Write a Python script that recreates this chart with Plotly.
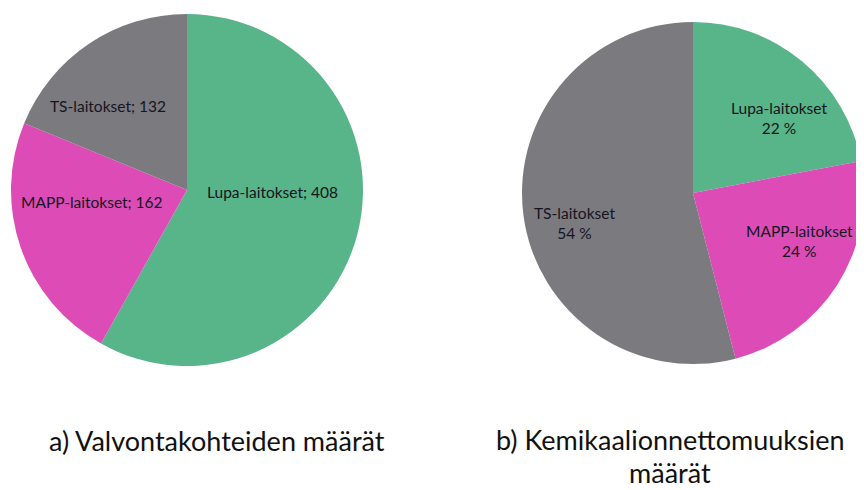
import plotly.graph_objects as go

# Data
categories_a = ["Lupa-laitokset", "MAPP-laitokset", "TS-laitokset"]
values_a = [408, 162, 132]
categories_b = ["Lupa-laitokset", "MAPP-laitokset", "TS-laitokset"]
values_b = [22, 24, 54]
title_a = "a) Valvontakohteiden määrät"
title_b_lines = ["b) Kemikaalionnettomuuksien", "määrät"]

colors = ["#58B489", "#DD4CB6", "#7B7A7F"]
FONT = "Lato"
TXT = "#15151f"

# page body has an 8px margin; the figure is sized so it fills the 864x490 window
OFF = 8
W, H = 864 - OFF, 490 - OFF


def px(x):
    return (x - OFF) / W


def py(y):
    return 1 - (y - OFF) / H


# label anchor points (page pixels) for each slice, in category order
label_pos_a = [(272, 192), (92, 202), (108, 106)]
label_pos_b = [(779, 118), (799, 241), (574, 223)]

fig = go.Figure()
fig.add_trace(go.Pie(
    labels=categories_a, values=values_a, sort=False, direction="clockwise",
    rotation=0, marker=dict(colors=colors, line=dict(width=0)),
    textinfo="none",
    domain=dict(x=[px(11), px(363)], y=[py(366), py(14)]),
    showlegend=False, hoverinfo="label+value",
))
fig.add_trace(go.Pie(
    labels=categories_b, values=values_b, sort=False, direction="clockwise",
    rotation=0, marker=dict(colors=colors, line=dict(width=0)),
    textinfo="none",
    domain=dict(x=[px(522), 1.0], y=[py(367), py(19)]),
    showlegend=False, hoverinfo="label+value",
))

for cat, val, (x, y) in zip(categories_a, values_a, label_pos_a):
    fig.add_annotation(text=f"{cat}; {val}", x=px(x), y=py(y), xref="paper", yref="paper",
                       showarrow=False, xanchor="center", yanchor="middle",
                       font=dict(family=FONT, size=15.5, color=TXT))
for cat, val, (x, y) in zip(categories_b, values_b, label_pos_b):
    fig.add_annotation(text=f"{cat}<br>{val} %", x=px(x), y=py(y), xref="paper", yref="paper",
                       showarrow=False, xanchor="center", yanchor="middle", align="center",
                       font=dict(family=FONT, size=15.5, color=TXT))

fig.add_annotation(text=title_a, x=px(217), y=py(440), xref="paper", yref="paper",
                   showarrow=False, xanchor="center", yanchor="middle",
                   font=dict(family=FONT, size=27, color="#111111"))
for line, yy in zip(title_b_lines, [439, 472]):
    fig.add_annotation(text=line, x=px(670), y=py(yy), xref="paper", yref="paper",
                       showarrow=False, xanchor="center", yanchor="middle",
                       font=dict(family=FONT, size=27, color="#111111"))

fig.update_layout(width=W, height=H, margin=dict(l=0, r=0, t=0, b=0),
                  paper_bgcolor="white", plot_bgcolor="white")
fig.write_html("out.html")
